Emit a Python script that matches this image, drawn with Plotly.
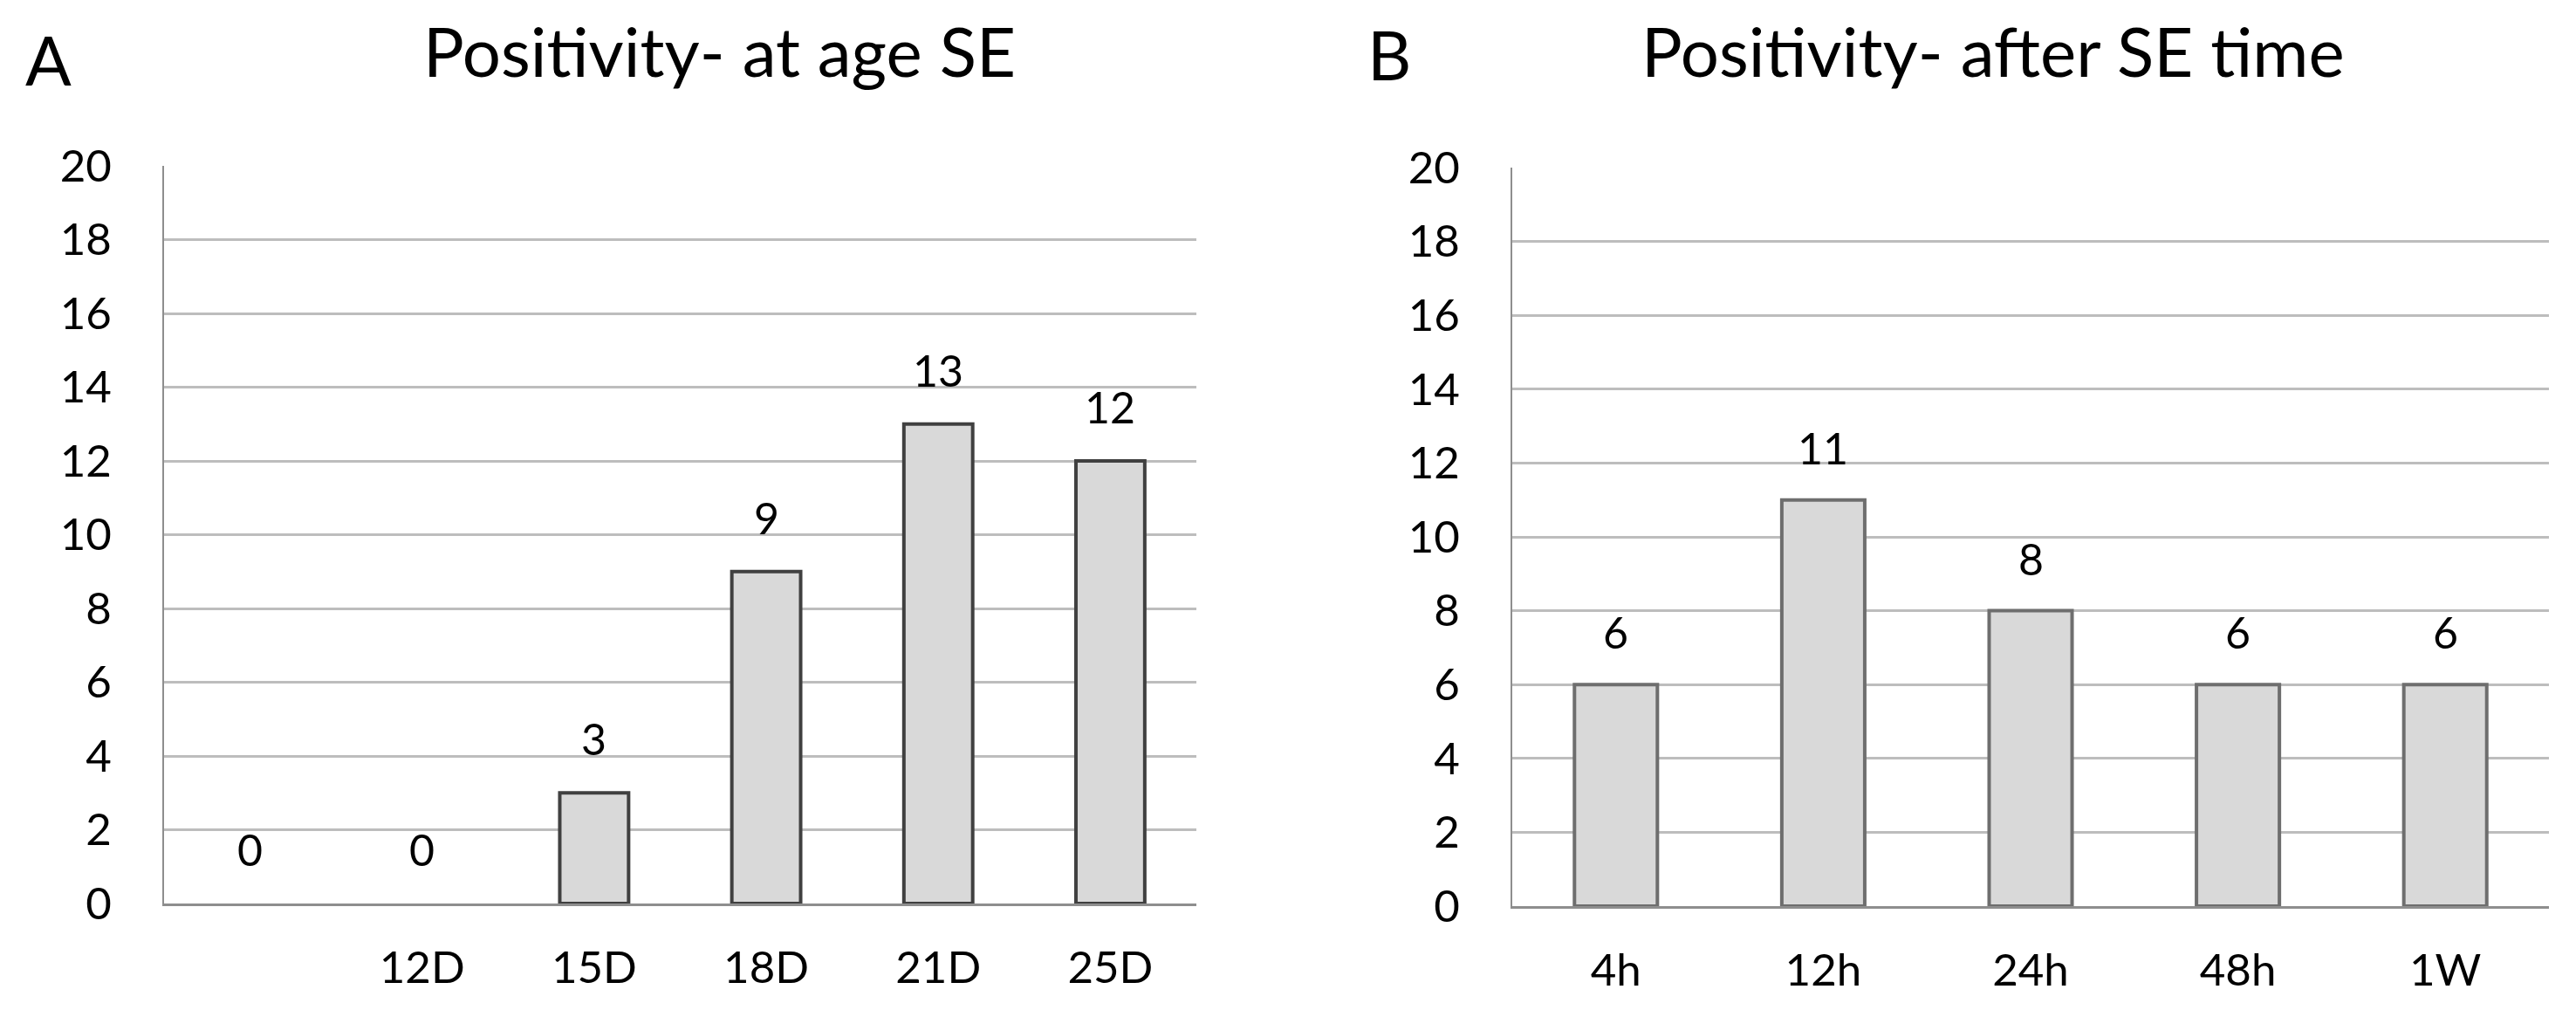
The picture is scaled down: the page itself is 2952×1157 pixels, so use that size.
import plotly.graph_objects as go

# ---- data ----
cats_a = [" ", "12D", "15D", "18D", "21D", "25D"]
vals_a = [0, 0, 3, 9, 13, 12]
cats_b = ["4h", "12h", "24h", "48h", "1W"]
vals_b = [6, 11, 8, 6, 6]
title_a = "Positivity- at age SE"
title_b = "Positivity- after SE time"
y_ticks = [0, 2, 4, 6, 8, 10, 12, 14, 16, 18, 20]

W, H = 2952, 1157
FONT = "Lato"
FILL = "#d9d9d9"

fig = go.Figure()

fig.add_trace(go.Bar(
    x=cats_a, y=vals_a, xaxis="x", yaxis="y",
    marker=dict(color=FILL,
                line=dict(color="#404040", width=[0 if v == 0 else 4 for v in vals_a])),
    hoverinfo="skip", showlegend=False,
))
fig.add_trace(go.Bar(
    x=cats_b, y=vals_b, xaxis="x2", yaxis="y2",
    marker=dict(color=FILL, line=dict(color="#6e6e6e", width=4)),
    hoverinfo="skip", showlegend=False,
))

annotations = []
for c, v in zip(cats_a, vals_a):
    annotations.append(dict(x=c, y=v, xref="x", yref="y", text=str(v), showarrow=False,
                            yshift=62, yanchor="middle",
                            font=dict(family=FONT, size=50, color="#000")))
for c, v in zip(cats_b, vals_b):
    annotations.append(dict(x=c, y=v, xref="x2", yref="y2", text=str(v), showarrow=False,
                            yshift=60, yanchor="middle",
                            font=dict(family=FONT, size=50, color="#000")))

# titles and panel letters
annotations += [
    dict(x=824 / W, y=1 - 58 / H, xref="paper", yref="paper", text=title_a, showarrow=False,
         xanchor="center", yanchor="middle", font=dict(family=FONT, size=78, color="#000")),
    dict(x=2284 / W, y=1 - 58 / H, xref="paper", yref="paper", text=title_b, showarrow=False,
         xanchor="center", yanchor="middle", font=dict(family=FONT, size=78, color="#000")),
    dict(x=55 / W, y=1 - 68 / H, xref="paper", yref="paper", text="A", showarrow=False,
         xanchor="center", yanchor="middle", font=dict(family=FONT, size=78, color="#000")),
    dict(x=1592 / W, y=1 - 62 / H, xref="paper", yref="paper", text="B", showarrow=False,
         xanchor="center", yanchor="middle", font=dict(family=FONT, size=78, color="#000")),
]

xa = dict(type="category", showgrid=False, zeroline=False, showline=True, linecolor="#8e8e8e",
          linewidth=3, ticks="", tickfont=dict(family=FONT, size=51, color="#000"),
          ticklabelstandoff=27, fixedrange=True, automargin=False)
ya = dict(range=[0, 20], tickvals=y_ticks, showgrid=True, gridcolor="#bdbdbd", gridwidth=3,
          zeroline=False, showline=True, linecolor="#8e8e8e", linewidth=2, ticks="",
          tickfont=dict(family=FONT, size=51, color="#000"), ticklabelstandoff=48,
          fixedrange=True, automargin=False)

fig.update_layout(
    width=W, height=H,
    margin=dict(l=0, r=0, t=0, b=0, pad=0, autoexpand=False),
    paper_bgcolor="white", plot_bgcolor="white",
    bargap=0.6,
    xaxis=dict(**xa, domain=[188 / W, 1371 / W], anchor="y",
               categoryorder="array", categoryarray=cats_a),
    yaxis=dict(**ya, domain=[(H - 1035) / H, (H - 190) / H], anchor="x"),
    xaxis2=dict(**xa, domain=[1733 / W, 2921 / W], anchor="y2",
                categoryorder="array", categoryarray=cats_b),
    yaxis2=dict(**ya, domain=[(H - 1038) / H, (H - 192) / H], anchor="x2"),
    annotations=annotations,
    font=dict(family=FONT, color="#000"),
)

fig.write_html("out.html", config={"displayModeBar": False},
               post_script="document.body.style.margin='0';")
